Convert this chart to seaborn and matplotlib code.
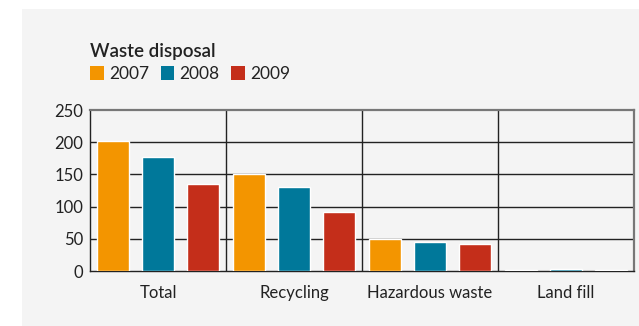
import matplotlib
matplotlib.use("Agg")
import matplotlib.pyplot as plt
import matplotlib.patches as mpatches
import seaborn as sns
import pandas as pd

categories = ["Total", "Recycling", "Hazardous waste", "Land fill"]
years = ["2007", "2008", "2009"]
v2007 = [202, 150, 50, 1.5]
v2008 = [177, 130, 45, 3]
v2009 = [135, 92, 42, 1.5]
colors = ["#F39500", "#00789A", "#C42E1A"]
title = "Waste disposal"

rows = []
for y, vals in zip(years, [v2007, v2008, v2009]):
    for c, v in zip(categories, vals):
        rows.append({"cat": c, "year": y, "value": v})
df = pd.DataFrame(rows)

sns.set_theme(style="white")
plt.rcParams["font.family"] = ["Lato", "DejaVu Sans"]
txt = "#222222"
bg = "#f4f4f4"

fig = plt.figure(figsize=(6.39, 3.26), dpi=100)
fig.patch.set_facecolor("white")
bgax = fig.add_axes([22/639, 0, 1 - 22/639, 1 - 9/326], zorder=-1)
bgax.set_facecolor(bg)
bgax.axis("off")
bgax.add_patch(mpatches.Rectangle((0, 0), 1, 1, transform=bgax.transAxes,
                                  facecolor=bg, edgecolor="none"))

ax = fig.add_axes([90/639, 1 - 271/326, 544/639, 161/326], zorder=1)
ax.set_facecolor(bg)

sns.barplot(data=df, x="cat", y="value", hue="year", hue_order=years,
            palette=colors, width=1.0, gap=0.3, ax=ax, saturation=1,
            legend=False, zorder=3)

ax.set_ylim(0, 250)
ax.set_xlim(-0.5, 3.5)
ax.set_yticks(range(0, 251, 50))
ax.set_xlabel("")
ax.set_ylabel("")
for yv in range(50, 250, 50):
    ax.axhline(yv, color="#222222", lw=1.0, zorder=1)
for xv in [0.5, 1.5, 2.5]:
    ax.axvline(xv, color="#222222", lw=1.0, zorder=1)
for s in ["left", "bottom"]:
    ax.spines[s].set_color("#222222")
    ax.spines[s].set_linewidth(1.0)
for s in ["top", "right"]:
    ax.spines[s].set_color("#777777")
    ax.spines[s].set_linewidth(1.6)
ax.tick_params(axis="both", length=0, labelsize=12, colors=txt, pad=5)
ax.tick_params(axis="x", pad=10)

fig.text(90/639, 1 - 52/326, title, fontsize=13.5, fontweight="semibold",
         color=txt, va="center", ha="left")
handles = [mpatches.Patch(facecolor=c, edgecolor="none", label=y)
           for c, y in zip(colors, years)]
fig.legend(handles=handles, loc="center left", bbox_to_anchor=(90/639, 1 - 74/326),
           ncol=3, frameon=False, fontsize=12.5, handlelength=0.8, handleheight=0.8,
           handletextpad=0.3, columnspacing=0.65, labelcolor=txt, borderaxespad=0,
           borderpad=0)

fig.savefig("out.png", dpi=100, facecolor="white")
